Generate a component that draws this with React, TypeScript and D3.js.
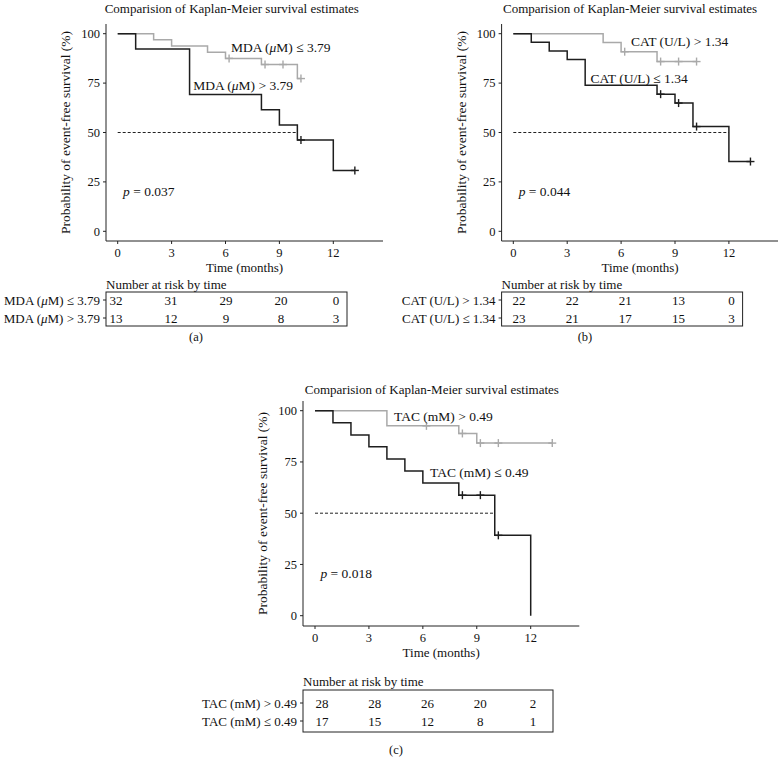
import React from 'react';
import * as d3 from 'd3';

const TITLE = 'Comparision of Kaplan-Meier survival estimates';
const Y_LABEL = 'Probability of event-free survival (%)';
const X_LABEL = 'Time (months)';
const RISK_TITLE = 'Number at risk by time';
const xTicks = [0, 3, 6, 9, 12];
const yTicks = [0, 25, 50, 75, 100];
const riskTimes = [0, 3, 6, 9, 12];

// Panel (a) MDA
const mdaLowTimes = [0, 2, 3, 5, 6, 8, 10];
const mdaLowSurv = [100, 96.9, 93.8, 90.6, 87.5, 84.4, 77.3];
const mdaLowCensor = [6.2, 8.2, 9.2, 10.2];
const mdaLowEnd = 10.2;
const mdaHighTimes = [0, 1, 4, 8, 9, 10, 12];
const mdaHighSurv = [100, 92.3, 69.2, 61.5, 53.8, 46.2, 30.8];
const mdaHighCensor = [10.2, 13.2];
const mdaHighEnd = 13.2;
const mdaRiskLow = [32, 31, 29, 20, 0];
const mdaRiskHigh = [13, 12, 9, 8, 3];

// Panel (b) CAT
const catHighTimes = [0, 5, 6, 8];
const catHighSurv = [100, 95.5, 90.9, 85.9];
const catHighCensor = [6.2, 8.2, 9.2, 10.2];
const catHighEnd = 10.2;
const catLowTimes = [0, 1, 2, 3, 4, 8, 9, 10, 12];
const catLowSurv = [100, 95.7, 91.3, 87.0, 73.9, 69.4, 64.9, 53.0, 35.3];
const catLowCensor = [8.2, 9.2, 10.2, 13.2];
const catLowEnd = 13.2;
const catRiskHigh = [22, 22, 21, 13, 0];
const catRiskLow = [23, 21, 17, 15, 3];

// Panel (c) TAC
const tacHighTimes = [0, 4, 8, 9];
const tacHighSurv = [100, 92.6, 88.9, 84.2];
const tacHighCensor = [6.2, 8.2, 9.2, 10.2, 13.2];
const tacHighEnd = 13.2;
const tacLowTimes = [0, 1, 2, 3, 4, 5, 6, 8, 10, 12];
const tacLowSurv = [100, 94.1, 88.2, 82.4, 76.5, 70.6, 64.7, 58.8, 39.2, 0];
const tacLowCensor = [8.2, 9.2, 10.2];
const tacLowEnd = 12;
const tacRiskHigh = [28, 28, 26, 20, 2];
const tacRiskLow = [17, 15, 12, 8, 1];

const GRAY = '#a9a9a9';
const BLACK = '#1e1e1e';
const FONT = '"Liberation Serif", "Times New Roman", serif';

type Curve = { times: number[]; surv: number[]; censor: number[]; end: number; color: string };
type Label = { pre: string; post: string; t: number; v: number };

function survAt(c: Curve, t: number) {
  let v = c.surv[0];
  for (let i = 0; i < c.times.length; i++) if (c.times[i] <= t) v = c.surv[i];
  return v;
}

function LabelText({ l }: { l: { pre: string; post: string } }) {
  if (!l.post) return <>{l.pre}</>;
  return (
    <>
      {l.pre}<tspan fontStyle="italic">μ</tspan>{l.post}
    </>
  );
}

type PanelProps = {
  x0: number; x12: number; axisL: number; axisR: number;
  y0: number; y100: number; axisT: number; axisB: number;
  curves: Curve[]; median: number;
  labels: Label[];
  p: string;
  titleY: number; titleT: number;
  riskNames: { pre: string; post: string }[]; risks: number[][];
  riskX: [number, number];
  riskTitleY: number; boxT: number; boxB: number; boxR: number; rowY: number[];
  tagX: number; tagY: number; tag: string;
};

function Panel(pp: PanelProps) {
  const x = d3.scaleLinear().domain([0, 12]).range([pp.x0, pp.x12]);
  const y = d3.scaleLinear().domain([0, 100]).range([pp.y0, pp.y100]);
  const rx = d3.scaleLinear().domain([0, 12]).range(pp.riskX);
  const line = d3.line<[number, number]>().x(d => x(d[0])).y(d => y(d[1])).curve(d3.curveStepAfter);
  const midAxis = (pp.axisL + pp.axisR) / 2;
  return (
    <g fontFamily={FONT} fill="#111">
      <text x={x(pp.titleT)} y={pp.titleY} textAnchor="middle" fontSize={13}>{TITLE}</text>
      <line x1={pp.axisL} x2={pp.axisL} y1={pp.axisT} y2={pp.axisB} stroke="#222" strokeWidth={1} />
      <line x1={pp.axisL} x2={pp.axisR} y1={pp.axisB} y2={pp.axisB} stroke="#222" strokeWidth={1} />
      {yTicks.map(v => (
        <g key={'y' + v}>
          <line x1={pp.axisL - 3} x2={pp.axisL} y1={y(v)} y2={y(v)} stroke="#222" />
          <text x={pp.axisL - 6} y={y(v)} dy="0.35em" textAnchor="end" fontSize={12.5}>{v}</text>
        </g>
      ))}
      {xTicks.map(v => (
        <g key={'x' + v}>
          <line x1={x(v)} x2={x(v)} y1={pp.axisB} y2={pp.axisB + 3} stroke="#222" />
          <text x={x(v)} y={pp.axisB + 16} textAnchor="middle" fontSize={12.5}>{v}</text>
        </g>
      ))}
      <text x={midAxis} y={pp.axisB + 31} textAnchor="middle" fontSize={13}>{X_LABEL}</text>
      <text transform={`translate(${pp.axisL - 36},${(pp.axisT + pp.axisB) / 2}) rotate(-90)`} textAnchor="middle" fontSize={13.5}>{Y_LABEL}</text>
      <line x1={x(0)} x2={x(pp.median)} y1={y(50)} y2={y(50)} stroke="#222" strokeWidth={1} strokeDasharray="3,2" />
      {pp.curves.map((c, i) => {
        const pts: [number, number][] = c.times.map((t, j) => [t, c.surv[j]] as [number, number]);
        pts.push([c.end, c.surv[c.surv.length - 1]]);
        return (
          <g key={'c' + i}>
            <path d={line(pts) || ''} fill="none" stroke={c.color} strokeWidth={1.5} />
            {c.censor.map((t, k) => {
              const cx = x(t), cy = y(survAt(c, t));
              return (
                <g key={k} stroke={c.color} strokeWidth={1.4}>
                  <line x1={cx - 4} x2={cx + 4} y1={cy} y2={cy} />
                  <line x1={cx} x2={cx} y1={cy - 4} y2={cy + 4} />
                </g>
              );
            })}
          </g>
        );
      })}
      {pp.labels.map((l, i) => (
        <text key={'l' + i} x={x(l.t)} y={y(l.v)} dy="0.35em" fontSize={13.5}><LabelText l={l} /></text>
      ))}
      <text x={x(0.3)} y={y(20.5)} dy="0.35em" fontSize={13.5}>
        <tspan fontStyle="italic">p</tspan> = {pp.p}
      </text>
      <text x={pp.axisL} y={pp.riskTitleY} dy="0.35em" fontSize={13}>{RISK_TITLE}</text>
      <rect x={pp.axisL} y={pp.boxT} width={pp.boxR - pp.axisL} height={pp.boxB - pp.boxT} fill="none" stroke="#222" strokeWidth={1} />
      {pp.risks.map((row, r) => (
        <g key={'r' + r}>
          <line x1={pp.axisL - 3} x2={pp.axisL} y1={pp.rowY[r]} y2={pp.rowY[r]} stroke="#222" />
          <text x={pp.axisL - 6} y={pp.rowY[r]} dy="0.35em" textAnchor="end" fontSize={13}><LabelText l={pp.riskNames[r]} /></text>
          {row.map((n, k) => (
            <text key={k} x={rx(riskTimes[k])} y={pp.rowY[r]} dy="0.35em" textAnchor="middle" fontSize={13}>{n}</text>
          ))}
        </g>
      ))}
      <text x={pp.tagX} y={pp.tagY} dy="0.35em" textAnchor="middle" fontSize={12.5}>{pp.tag}</text>
    </g>
  );
}

export default function App() {
  const aCurves: Curve[] = [
    { times: mdaLowTimes, surv: mdaLowSurv, censor: mdaLowCensor, end: mdaLowEnd, color: GRAY },
    { times: mdaHighTimes, surv: mdaHighSurv, censor: mdaHighCensor, end: mdaHighEnd, color: BLACK },
  ];
  const bCurves: Curve[] = [
    { times: catHighTimes, surv: catHighSurv, censor: catHighCensor, end: catHighEnd, color: GRAY },
    { times: catLowTimes, surv: catLowSurv, censor: catLowCensor, end: catLowEnd, color: BLACK },
  ];
  const cCurves: Curve[] = [
    { times: tacHighTimes, surv: tacHighSurv, censor: tacHighCensor, end: tacHighEnd, color: GRAY },
    { times: tacLowTimes, surv: tacLowSurv, censor: tacLowCensor, end: tacLowEnd, color: BLACK },
  ];
  const dx = 395.6;
  const mdaLe = { pre: 'MDA (', post: 'M) ≤ 3.79' };
  const mdaGt = { pre: 'MDA (', post: 'M) > 3.79' };
  const catGt = { pre: 'CAT (U/L) > 1.34', post: '' };
  const catLe = { pre: 'CAT (U/L) ≤ 1.34', post: '' };
  const tacGt = { pre: 'TAC (mM) > 0.49', post: '' };
  const tacLe = { pre: 'TAC (mM) ≤ 0.49', post: '' };
  return (
    <svg width={778} height={768} style={{ position: 'absolute', left: 0, top: 0, background: '#fff' }}>
      <rect width={778} height={768} fill="#fff" />
      <Panel x0={117.7} x12={333.3} axisL={106} axisR={383} y0={231.3} y100={33.7} axisT={24} axisB={241}
        curves={aCurves} median={10}
        labels={[{ ...mdaLe, t: 6.3, v: 93 }, { ...mdaGt, t: 4.2, v: 74 }]}
        p="0.037" titleY={12.5} titleT={6.35}
        riskNames={[mdaLe, mdaGt]} risks={[mdaRiskLow, mdaRiskHigh]} riskX={[116, 336]}
        riskTitleY={284} boxT={292} boxB={326} boxR={347} rowY={[300, 318]} tagX={196} tagY={337} tag="(a)" />
      <Panel x0={117.7 + dx} x12={333.3 + dx} axisL={106 + dx} axisR={383 + dx} y0={231.3} y100={33.7} axisT={24} axisB={241}
        curves={bCurves} median={12}
        labels={[{ ...catGt, t: 6.55, v: 96 }, { ...catLe, t: 4.3, v: 77.5 }]}
        p="0.044" titleY={12.5} titleT={6.5}
        riskNames={[catGt, catLe]} risks={[catRiskHigh, catRiskLow]} riskX={[519, 731.5]}
        riskTitleY={284} boxT={292} boxB={326} boxR={347 + dx} rowY={[300, 318]} tagX={585} tagY={337} tag="(b)" />
      <Panel x0={315} x12={530.7} axisL={303} axisR={579.3} y0={615.7} y100={410.7} axisT={401} axisB={626}
        curves={cCurves} median={10}
        labels={[{ ...tacGt, t: 4.4, v: 97.5 }, { ...tacLe, t: 6.4, v: 70 }]}
        p="0.018" titleY={394} titleT={6.5}
        riskNames={[tacGt, tacLe]} risks={[tacRiskHigh, tacRiskLow]} riskX={[322, 533]}
        riskTitleY={681} boxT={690} boxB={732} boxR={553} rowY={[703, 721]} tagX={396} tagY={750} tag="(c)" />
    </svg>
  );
}
